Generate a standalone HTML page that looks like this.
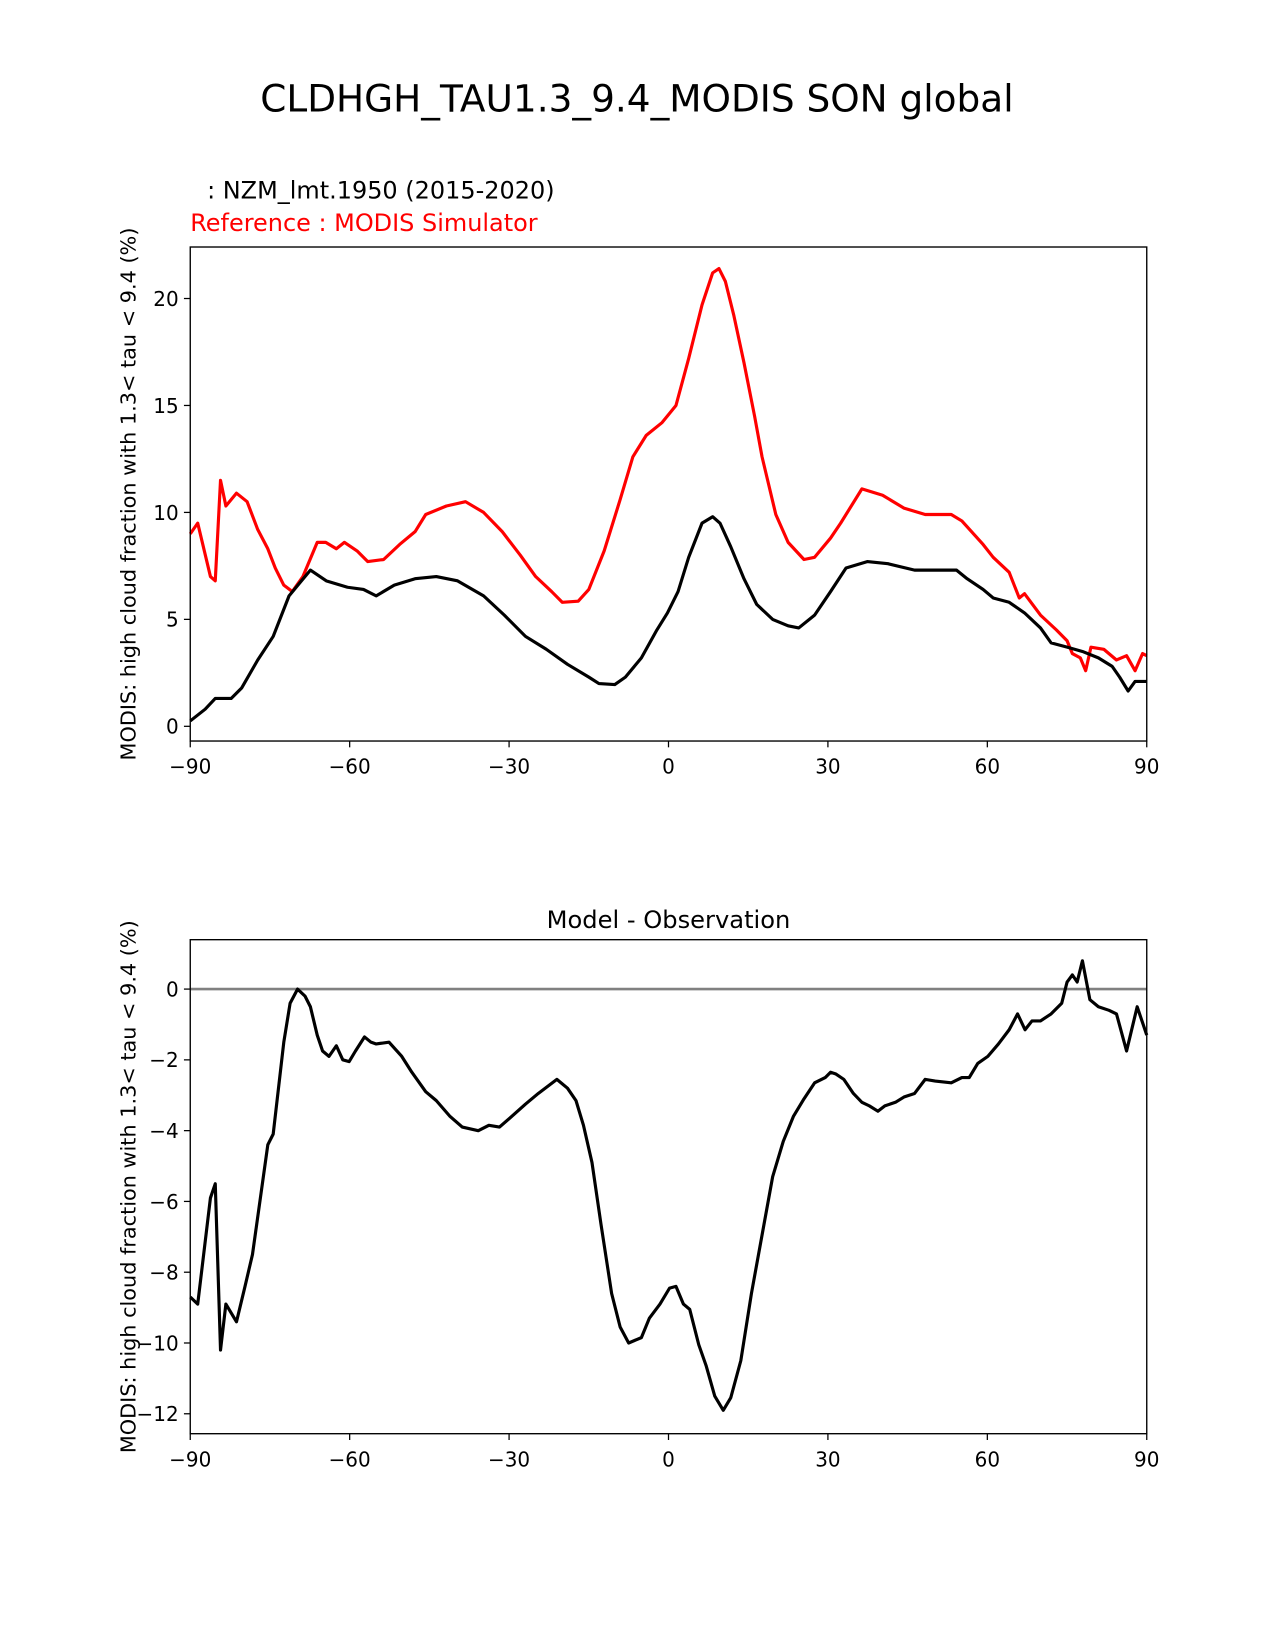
<!DOCTYPE html>
<html><head><meta charset="utf-8"><style>
body{margin:0;background:#fff}
svg{display:block;font-family:"DejaVu Sans","Liberation Sans",sans-serif}
</style></head><body>
<svg id="fig" width="1275" height="1650" viewBox="0 0 1275 1650">
<rect width="1275" height="1650" fill="#fff"/>
<g transform="scale(1.0511)">
<text x="606" y="106" text-anchor="middle" font-size="35.6">CLDHGH_TAU1.3_9.4_MODIS SON global</text>
<text x="197" y="189" font-size="22.8">: NZM_lmt.1950 (2015-2020)</text>
<text x="181" y="220" font-size="22.8" fill="#ff0000">Reference : MODIS Simulator</text>
<text x="636" y="883" text-anchor="middle" font-size="23">Model - Observation</text>
<g id="top"></g>
<g id="bot"></g>
</g>
</svg>
<script>
const xTicks=[-90,-60,-30,0,30,60,90];
const topYTicks=[0,5,10,15,20];
const botYTicks=[0,-2,-4,-6,-8,-10,-12];
const modelLat=[-90,-87.2,-85.3,-82.3,-80.3,-77.3,-74.4,-71.4,-69.4,-67.4,-64.4,-60.4,-57.4,-55,-51.6,-47.7,-43.7,-39.7,-34.8,-30.9,-26.9,-23,-19,-15,-13.1,-10.1,-8.1,-5.1,-2.2,-0.2,1.8,3.8,6.3,8.3,9.7,11.7,14.2,16.6,19.6,22.5,24.5,27.5,30.5,33.4,37.4,41.3,46.3,51.2,54.2,56.2,59.2,61.1,64.1,67,70,72,75,77.9,80.9,83.5,84.9,86.5,87.8,90];
const modelVal=[0.25,0.8,1.3,1.3,1.8,3.1,4.2,6.1,6.7,7.3,6.8,6.5,6.4,6.1,6.6,6.9,7.0,6.8,6.1,5.2,4.2,3.6,2.9,2.3,2.0,1.95,2.3,3.2,4.5,5.3,6.3,7.9,9.5,9.8,9.5,8.4,6.9,5.7,5.0,4.7,4.6,5.2,6.3,7.4,7.7,7.6,7.3,7.3,7.3,6.9,6.4,6.0,5.8,5.3,4.6,3.9,3.7,3.5,3.2,2.8,2.3,1.65,2.1,2.1];
const refLat=[-90,-88.6,-86.2,-85.3,-84.3,-83.3,-81.3,-79.3,-77.3,-75.4,-74,-72.4,-70.8,-68.8,-66.1,-64.5,-62.5,-61,-58.6,-56.6,-53.6,-50.6,-47.7,-45.7,-41.8,-38.2,-34.8,-31.3,-27.9,-25,-22,-20,-17,-15,-12.1,-9.1,-6.7,-4.2,-1.2,1.4,3.8,6.3,8.3,9.5,10.7,12.3,14.2,16.2,17.6,20.2,22.5,25.5,27.5,30.5,32.4,36.4,40.3,44.3,48.3,53.2,55.2,59.2,61.1,64.1,66,67,70,73,75,76,77.5,78.5,79.5,81.9,84.3,86.2,87.8,89.2,90];
const refVal=[9.0,9.5,7.0,6.8,11.5,10.3,10.9,10.5,9.2,8.3,7.4,6.6,6.3,7.0,8.6,8.6,8.3,8.6,8.2,7.7,7.8,8.5,9.1,9.9,10.3,10.5,10.0,9.1,8.0,7.0,6.3,5.8,5.85,6.4,8.2,10.6,12.6,13.6,14.2,15.0,17.2,19.7,21.2,21.4,20.8,19.2,17.0,14.5,12.6,9.9,8.6,7.8,7.9,8.8,9.5,11.1,10.8,10.2,9.9,9.9,9.6,8.5,7.9,7.2,6.0,6.2,5.2,4.5,4.0,3.4,3.2,2.6,3.7,3.6,3.1,3.3,2.6,3.4,3.3];
const diffLat=[-90,-88.6,-86.2,-85.3,-84.3,-83.3,-81.3,-79.7,-78.3,-75.4,-74.4,-72.4,-71.2,-69.8,-68.4,-67.4,-66.1,-65.1,-63.9,-62.5,-61.3,-60.1,-58.9,-57.2,-56,-55,-52.6,-50.2,-48.3,-45.7,-43.7,-41.1,-38.8,-35.8,-33.8,-31.8,-29.9,-26.9,-24.5,-21,-19,-17.4,-16,-14.4,-12.7,-10.7,-9.1,-7.5,-5.1,-3.6,-1.6,0.2,1.4,2.8,4,5.7,7.1,8.7,10.3,11.7,13.6,15.6,17.6,19.6,21.6,23.5,25.5,27.5,29.5,30.5,31.5,33,34.8,36.4,37.8,39.4,40.7,42.7,44.3,46.3,48.3,50.2,53.2,55.2,56.6,58.2,60.1,62.1,64.1,65.7,67.1,68.4,70,72,74,75,76,76.9,77.9,79.3,80.9,82.9,84.3,86.2,88.2,90];
const diffVal=[-8.7,-8.9,-5.9,-5.5,-10.2,-8.9,-9.4,-8.4,-7.5,-4.4,-4.1,-1.5,-0.4,0,-0.2,-0.5,-1.3,-1.75,-1.9,-1.6,-2.0,-2.05,-1.75,-1.35,-1.5,-1.55,-1.5,-1.9,-2.35,-2.9,-3.15,-3.6,-3.9,-4.0,-3.85,-3.9,-3.65,-3.25,-2.95,-2.55,-2.8,-3.15,-3.85,-4.9,-6.65,-8.6,-9.55,-10.0,-9.85,-9.3,-8.9,-8.45,-8.4,-8.9,-9.05,-10.05,-10.65,-11.5,-11.9,-11.55,-10.5,-8.6,-6.95,-5.3,-4.3,-3.6,-3.1,-2.65,-2.5,-2.35,-2.4,-2.55,-2.95,-3.2,-3.3,-3.45,-3.3,-3.2,-3.05,-2.95,-2.55,-2.6,-2.65,-2.5,-2.5,-2.1,-1.9,-1.55,-1.15,-0.7,-1.15,-0.9,-0.9,-0.7,-0.4,0.2,0.4,0.2,0.8,-0.3,-0.5,-0.6,-0.7,-1.75,-0.5,-1.3];

const NS='http://www.w3.org/2000/svg';
function mk(tag,attrs,parent){const e=document.createElementNS(NS,tag);for(const k in attrs)e.setAttribute(k,attrs[k]);parent.appendChild(e);return e;}
const X0=181,X1=1091;
function xs(lat){return X0+(lat+90)/180*(X1-X0);}

function axes(g,top,bottom,ys,yt,prefix){
  const r=mk('rect',{x:X0,y:top,width:X1-X0,height:bottom-top,fill:'none',stroke:'#000','stroke-width':1.3},g);
  
  
  xTicks.forEach(t=>{
    const x=xs(t);
    const l=mk('line',{x1:x,x2:x,y1:bottom,y2:bottom+6,stroke:'#000','stroke-width':1.2},g);
    
    
    const tx=mk('text',{x:x,y:bottom+31,'text-anchor':'middle','font-size':19},g);
    tx.textContent=(t<0?'\u2212'+(-t):t);
    
    
  });
  yt.forEach(t=>{
    const y=ys(t);
    const l=mk('line',{x1:X0-6,x2:X0,y1:y,y2:y,stroke:'#000','stroke-width':1.2},g);
    
    
    const tx=mk('text',{x:X0-11,y:y+7,'text-anchor':'end','font-size':19},g);
    tx.textContent=(t<0?'\u2212'+(-t):t);
    
    
  });
  const cy=(top+bottom)/2;
  const yl=mk('text',{x:0,y:0,'text-anchor':'middle','font-size':19.8,transform:`translate(129,${cy}) rotate(-90)`},g);
  yl.textContent='MODIS: high cloud fraction with 1.3< tau < 9.4 (%)';
  
  
}
function line(g,lat,val,ys,color,name){
  const d=lat.map((a,i)=>(i?'L':'M')+xs(a).toFixed(1)+','+ys(val[i]).toFixed(1)).join('');
  const p=mk('path',{d:d,fill:'none',stroke:color,'stroke-width':3,'stroke-linejoin':'round'},g);
  
  
}
const gt=document.getElementById('top');
const ysT=v=>691-v*20.35;
line(gt,refLat,refVal,ysT,'#ff0000','reference-line');
line(gt,modelLat,modelVal,ysT,'#000','model-line');
axes(gt,235,705,ysT,topYTicks,'top');

const gb=document.getElementById('bot');
const ysB=v=>941-v*33.67;
const z=mk('line',{x1:X0,x2:X1,y1:ysB(0),y2:ysB(0),stroke:'#808080','stroke-width':2.5},gb);


line(gb,diffLat,diffVal,ysB,'#000','difference-line');
axes(gb,894,1364,ysB,botYTicks,'bottom');
</script>
</body></html>
